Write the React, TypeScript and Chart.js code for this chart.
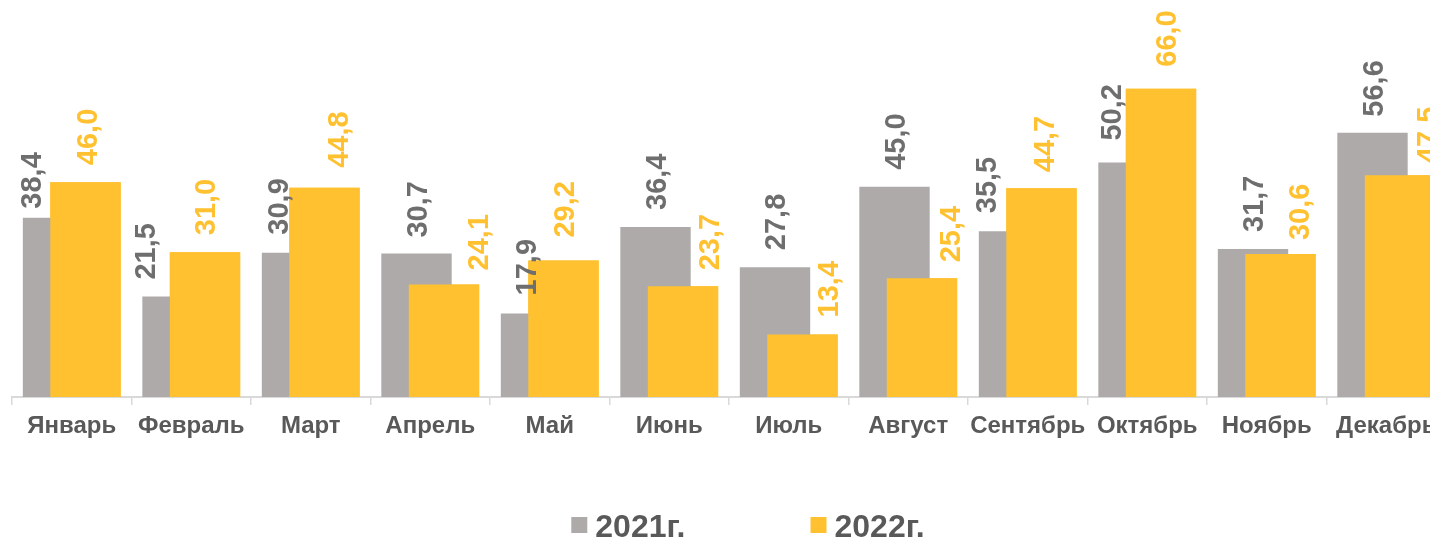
import { useEffect, useRef } from 'react';
import { Chart, registerables } from 'chart.js';

Chart.register(...registerables);

const categories = ['Январь', 'Февраль', 'Март', 'Апрель', 'Май', 'Июнь', 'Июль', 'Август', 'Сентябрь', 'Октябрь', 'Ноябрь', 'Декабрь'];
const values2021 = [38.4, 21.5, 30.9, 30.7, 17.9, 36.4, 27.8, 45.0, 35.5, 50.2, 31.7, 56.6];
const values2022 = [46.0, 31.0, 44.8, 24.1, 29.2, 23.7, 13.4, 25.4, 44.7, 66.0, 30.6, 47.5];
const seriesNames = ['2021г.', '2022г.'];

// manual nudges of the value labels, as placed in the reference (pixels)
const labelShiftX2021 = [-27, -33, -19, 0, -10, 0, 0, 0, -28, -23, 0, 0];
const labelGap2021 = [9, 17, 18, 16, 18, 17, 17, 17, 18, 22, 17, 16];
const labelShiftX2022 = [1, 0, 13, 34, 0, 26, 25, 28, 2, 5, 18, 27];
const labelGap2022 = [17, 17, 20, 14, 23, 16, 17, 16, 16, 22, 14, 12];

const GRAY = '#AEAAAA';
const YELLOW = '#FFC12F';
const GRAY_LABEL = '#6E6E6E';
const TEXT = '#595959';
const FONT = '"Liberation Sans", Arial, sans-serif';

const fmt = (v: number) => v.toFixed(1).replace('.', ',');

const overlayPlugin = {
  id: 'overlay',
  afterDatasetsDraw(chart: any) {
    const ctx = chart.ctx;
    // yellow series in front of the gray one
    chart.getDatasetMeta(1).controller.draw();

    const series = [
      { vals: values2021, dx: labelShiftX2021, gap: labelGap2021, color: GRAY_LABEL },
      { vals: values2022, dx: labelShiftX2022, gap: labelGap2022, color: YELLOW },
    ];
    ctx.save();
    ctx.font = `bold 29px ${FONT}`;
    ctx.textAlign = 'left';
    ctx.textBaseline = 'alphabetic';
    const capH = 29 * 0.716;
    series.forEach((s, di) => {
      const meta = chart.getDatasetMeta(di);
      meta.data.forEach((bar: any, i: number) => {
        const cx = bar.x + s.dx[i];
        const by = bar.y - s.gap[i];
        ctx.save();
        ctx.translate(cx + capH / 2, by);
        ctx.rotate(-Math.PI / 2);
        ctx.fillStyle = s.color;
        ctx.fillText(fmt(s.vals[i]), 0, 0);
        ctx.restore();
      });
    });
    ctx.restore();
  },
  afterDraw(chart: any) {
    const ctx = chart.ctx;
    ctx.save();
    ctx.font = `bold 32px ${FONT}`;
    ctx.textBaseline = 'alphabetic';
    ctx.textAlign = 'left';
    const box = 16;
    const gapBT = 8;
    const itemGap = 125;
    const w1 = ctx.measureText(seriesNames[0]).width;
    const w2 = ctx.measureText(seriesNames[1]).width;
    const total = box + gapBT + w1 + itemGap + box + gapBT + w2;
    let x = chart.width / 2 - total / 2;
    const boxTop = 517;
    const baseY = 537;
    [[GRAY, seriesNames[0], w1], [YELLOW, seriesNames[1], w2]].forEach(([c, t, w]: any) => {
      ctx.fillStyle = c;
      ctx.fillRect(x, boxTop, box, box);
      x += box + gapBT;
      ctx.fillStyle = TEXT;
      ctx.fillText(t, x, baseY);
      x += w + itemGap;
    });
    ctx.restore();
  },
};

export default function App() {
  const ref = useRef<HTMLCanvasElement>(null);
  useEffect(() => {
    if (!ref.current) return;
    const chart = new Chart(ref.current, {
      type: 'bar',
      data: {
        labels: categories,
        datasets: [
          { label: seriesNames[0], data: values2021, backgroundColor: GRAY },
          { label: seriesNames[1], data: values2022, backgroundColor: YELLOW },
        ],
      },
      options: {
        responsive: false,
        animation: false,
        devicePixelRatio: 1,
        categoryPercentage: 0.46,
        barPercentage: 2.56,
        layout: { padding: { left: 12, right: 50, top: 0, bottom: 0 } },
        plugins: {
          legend: { display: false },
          tooltip: { enabled: false },
        },
        scales: {
          x: {
            offset: true,
            afterFit(scale: any) {
              scale.height = 141;
            },
            grid: {
              offset: true,
              drawOnChartArea: false,
              drawTicks: true,
              tickLength: 8,
              color: '#D9D9D9',
              lineWidth: 1.5,
            },
            border: { display: true, color: '#D9D9D9', width: 2 },
            ticks: {
              autoSkip: false,
              maxRotation: 0,
              minRotation: 0,
              padding: 7,
              color: TEXT,
              font: { family: FONT, size: 24, weight: 'bold' },
            },
          },
          y: {
            display: false,
            min: 0,
            max: 85,
          },
        },
      },
      plugins: [overlayPlugin],
    } as any);
    return () => chart.destroy();
  }, []);
  return (
    <div style={{ position: 'fixed', left: 0, top: 0, width: 1430, height: 538, overflow: 'hidden', background: '#fff' }}>
      <canvas ref={ref} width={1496} height={538} style={{ display: 'block' }} />
    </div>
  );
}
